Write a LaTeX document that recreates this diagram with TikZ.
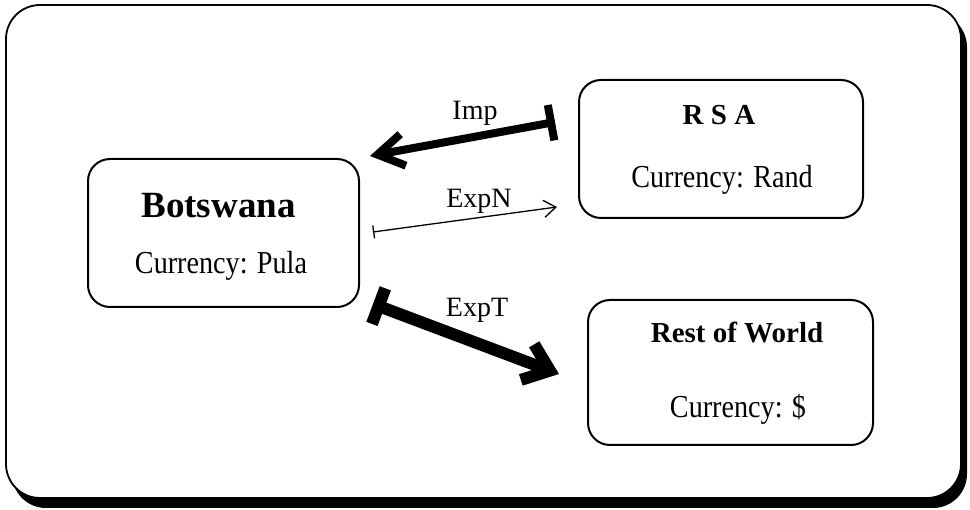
\documentclass[tikz,border=0pt]{standalone}
\usepackage{fontspec}
\setmainfont{Liberation Serif}
\usepackage{graphicx}
\usetikzlibrary{arrows.meta}
\newcommand{\bigbold}{\fontsize{37}{40}\selectfont\bfseries}
\newcommand{\midbold}{\fontsize{29}{32}\selectfont\bfseries}
\newcommand{\curtext}[1]{\scalebox{0.88}[1]{\fontsize{32}{36}\selectfont #1}}
\newcommand{\lblfont}{\fontsize{28}{30}\selectfont}
\tikzset{
  boxnode/.style={draw, line width=2pt, rounded corners=22pt, inner sep=0pt},
  txt/.style={anchor=base, inner sep=0pt},
  lbl/.style={anchor=base, inner sep=0pt, font=\lblfont},
}
\begin{document}
\begin{tikzpicture}[x=1pt,y=-1pt]
\useasboundingbox (0,0) rectangle (970,510);
% frame with shadow
\fill[black, rounded corners=34pt] (12,13) rectangle (967,508);
\draw[line width=1.8pt, fill=white, rounded corners=34pt] (6,5) rectangle (961,498);
% boxes
\node[boxnode, minimum width=271pt, minimum height=148pt] (bw) at (223.5,233) {};
\node[boxnode, minimum width=284pt, minimum height=138pt] (rsa) at (721,149) {};
\node[boxnode, minimum width=285pt, minimum height=145pt] (row) at (730.5,372.5) {};
% texts
\node[txt, font=\bigbold] (bwname) at (218.5,218) {Botswana};
\node[txt] (bwcur) at (221,274) {\curtext{Currency: Pula}};
\node[txt, font=\midbold] (rsaname) at (719,125) {R S A};
\node[txt] (rsacur) at (722,188) {\curtext{Currency: Rand}};
\node[txt, font=\midbold] (rowname) at (737,343) {Rest of World};
\node[txt] (rowcur) at (738,418) {\curtext{Currency: \$}};
% connectors
\coordinate (impS) at (555,122);
\coordinate (impE) at (370,156);
\coordinate (expnS) at (373,232);
\coordinate (expnE) at (557,207);
\coordinate (exptS) at (373,304);
\coordinate (exptE) at (559,374);
\draw[line width=8pt, {Bar[width=36pt]}-{Straight Barb[length=26pt,width=32pt]}] (impS) -- (impE);
\draw[line width=1.3pt, {Bar[width=13pt]}-{Straight Barb[length=12pt,width=17pt]}] (expnS) -- (expnE);
\draw[line width=12pt, {Bar[width=38pt]}-{Straight Barb[length=24pt,width=38pt]}] (exptS) -- (exptE);
% labels
\node[lbl] (implbl) at (475,120) {Imp};
\node[lbl] (expnlbl) at (479,208) {ExpN};
\node[lbl] (exptlbl) at (477,317) {ExpT};
\end{tikzpicture}
\end{document}
